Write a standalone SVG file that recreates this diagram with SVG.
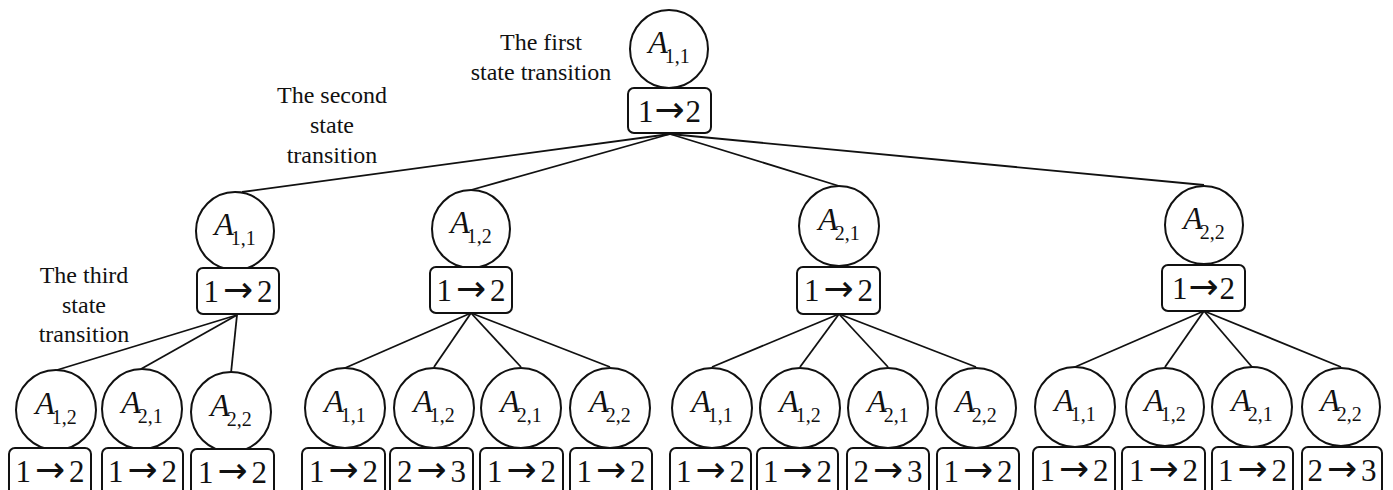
<svg xmlns="http://www.w3.org/2000/svg" width="1393" height="490" viewBox="0 0 1393 490">
<style>
text{font-family:"Liberation Serif","Times New Roman",serif;fill:#111}
.c{fill:#fff;stroke:#111;stroke-width:2}
.b{fill:#fff;stroke:#111;stroke-width:2}
.lbl{font-size:24px;text-anchor:middle}
.a{text-anchor:middle}
.ai{font-style:italic;font-size:32px}
.s{font-size:20px}
.t{font-size:31px;text-anchor:middle}
.r{font-family:"DejaVu Sans",sans-serif;font-size:36px}
#edges line{stroke:#111;stroke-width:1.8}
</style>
<g id="labels">
<text class="lbl" x="541" y="50">The first</text>
<text class="lbl" x="541" y="80">state transition</text>
<text class="lbl" x="332" y="103">The second</text>
<text class="lbl" x="332" y="133">state</text>
<text class="lbl" x="332" y="163">transition</text>
<text class="lbl" x="84" y="283">The third</text>
<text class="lbl" x="84" y="313">state</text>
<text class="lbl" x="84" y="342">transition</text>
</g>
<g id="edges">
<line x1="670" y1="134" x2="242" y2="192"/>
<line x1="670" y1="134" x2="471" y2="190"/>
<line x1="670" y1="134" x2="839" y2="186"/>
<line x1="670" y1="134" x2="1204" y2="185"/>
<line x1="237" y1="315" x2="57" y2="370"/>
<line x1="237" y1="315" x2="141" y2="369"/>
<line x1="237" y1="315" x2="231" y2="373"/>
<line x1="471" y1="313" x2="345" y2="368"/>
<line x1="471" y1="313" x2="434" y2="367"/>
<line x1="471" y1="313" x2="521" y2="367"/>
<line x1="471" y1="313" x2="610" y2="367"/>
<line x1="839" y1="314" x2="712" y2="367"/>
<line x1="839" y1="314" x2="800" y2="367"/>
<line x1="839" y1="314" x2="888" y2="367"/>
<line x1="839" y1="314" x2="976" y2="367"/>
<line x1="1204" y1="311" x2="1075" y2="367"/>
<line x1="1204" y1="311" x2="1165" y2="367"/>
<line x1="1204" y1="311" x2="1252" y2="367"/>
<line x1="1204" y1="311" x2="1341" y2="367"/>
</g>
<g id="n0">
<circle class="c" cx="669" cy="49" r="39"/>
<text class="a" x="669" y="53"><tspan class="ai">A</tspan><tspan class="s" dx="-3" dy="10">1,1</tspan></text>
<rect class="b" x="628" y="88" width="83" height="45" rx="6"/>
<text class="t" x="669.5" y="122">1<tspan class="r" dx="1">→</tspan><tspan dx="1">2</tspan></text>
</g>
<g id="n1">
<circle class="c" cx="235" cy="231" r="39"/>
<text class="a" x="235" y="235"><tspan class="ai">A</tspan><tspan class="s" dx="-3" dy="10">1,1</tspan></text>
<rect class="b" x="197" y="268" width="82" height="46" rx="6"/>
<text class="t" x="238" y="302">1<tspan class="r" dx="4">→</tspan><tspan dx="4">2</tspan></text>
</g>
<g id="n2">
<circle class="c" cx="471" cy="229" r="39"/>
<text class="a" x="471" y="233"><tspan class="ai">A</tspan><tspan class="s" dx="-3" dy="10">1,2</tspan></text>
<rect class="b" x="430" y="267" width="82" height="46" rx="6"/>
<text class="t" x="471" y="301">1<tspan class="r" dx="4">→</tspan><tspan dx="4">2</tspan></text>
</g>
<g id="n3">
<circle class="c" cx="839" cy="226" r="40"/>
<text class="a" x="839" y="230"><tspan class="ai">A</tspan><tspan class="s" dx="-3" dy="10">2,1</tspan></text>
<rect class="b" x="797" y="267" width="83" height="47" rx="6"/>
<text class="t" x="838.5" y="301">1<tspan class="r" dx="4">→</tspan><tspan dx="4">2</tspan></text>
</g>
<g id="n4">
<circle class="c" cx="1204" cy="225" r="39"/>
<text class="a" x="1204" y="229"><tspan class="ai">A</tspan><tspan class="s" dx="-3" dy="10">2,2</tspan></text>
<rect class="b" x="1162" y="265" width="83" height="46" rx="6"/>
<text class="t" x="1203.5" y="299">1<tspan class="r" dx="1">→</tspan><tspan dx="1">2</tspan></text>
</g>
<g id="n5"><circle class="c" cx="56" cy="410" r="40"/><text class="a" x="56" y="414"><tspan class="ai">A</tspan><tspan class="s" dx="-3" dy="10">1,2</tspan></text><rect class="b" x="9" y="448" width="82" height="48" rx="6"/><text class="t" x="50" y="482">1<tspan class="r" dx="4">→</tspan><tspan dx="4">2</tspan></text></g>
<g id="n6"><circle class="c" cx="142" cy="409" r="40"/><text class="a" x="142" y="413"><tspan class="ai">A</tspan><tspan class="s" dx="-3" dy="10">2,1</tspan></text><rect class="b" x="102" y="448" width="81" height="48" rx="6"/><text class="t" x="142.5" y="482">1<tspan class="r" dx="4">→</tspan><tspan dx="4">2</tspan></text></g>
<g id="n7"><circle class="c" cx="231" cy="412" r="40"/><text class="a" x="231" y="416"><tspan class="ai">A</tspan><tspan class="s" dx="-3" dy="10">2,2</tspan></text><rect class="b" x="191" y="449" width="83" height="48" rx="6"/><text class="t" x="232.5" y="483">1<tspan class="r" dx="4">→</tspan><tspan dx="4">2</tspan></text></g>
<g id="n8"><circle class="c" cx="345" cy="408" r="40"/><text class="a" x="345" y="412"><tspan class="ai">A</tspan><tspan class="s" dx="-3" dy="10">1,1</tspan></text><rect class="b" x="302" y="448" width="83" height="48" rx="6"/><text class="t" x="343.5" y="482">1<tspan class="r" dx="4">→</tspan><tspan dx="4">2</tspan></text></g>
<g id="n9"><circle class="c" cx="434" cy="408" r="40"/><text class="a" x="434" y="412"><tspan class="ai">A</tspan><tspan class="s" dx="-3" dy="10">1,2</tspan></text><rect class="b" x="390" y="448" width="83" height="48" rx="6"/><text class="t" x="431.5" y="482">2<tspan class="r" dx="4">→</tspan><tspan dx="4">3</tspan></text></g>
<g id="n10"><circle class="c" cx="521" cy="408" r="40"/><text class="a" x="521" y="412"><tspan class="ai">A</tspan><tspan class="s" dx="-3" dy="10">2,1</tspan></text><rect class="b" x="480" y="448" width="83" height="48" rx="6"/><text class="t" x="521.5" y="482">1<tspan class="r" dx="4">→</tspan><tspan dx="4">2</tspan></text></g>
<g id="n11"><circle class="c" cx="610" cy="408" r="40"/><text class="a" x="610" y="412"><tspan class="ai">A</tspan><tspan class="s" dx="-3" dy="10">2,2</tspan></text><rect class="b" x="570" y="448" width="82" height="48" rx="6"/><text class="t" x="611" y="482">1<tspan class="r" dx="4">→</tspan><tspan dx="4">2</tspan></text></g>
<g id="n12"><circle class="c" cx="712" cy="408" r="40"/><text class="a" x="712" y="412"><tspan class="ai">A</tspan><tspan class="s" dx="-3" dy="10">1,1</tspan></text><rect class="b" x="670" y="448" width="81" height="48" rx="6"/><text class="t" x="710.5" y="482">1<tspan class="r" dx="4">→</tspan><tspan dx="4">2</tspan></text></g>
<g id="n13"><circle class="c" cx="800" cy="408" r="40"/><text class="a" x="800" y="412"><tspan class="ai">A</tspan><tspan class="s" dx="-3" dy="10">1,2</tspan></text><rect class="b" x="757" y="448" width="81" height="48" rx="6"/><text class="t" x="797.5" y="482">1<tspan class="r" dx="4">→</tspan><tspan dx="4">2</tspan></text></g>
<g id="n14"><circle class="c" cx="888" cy="408" r="40"/><text class="a" x="888" y="412"><tspan class="ai">A</tspan><tspan class="s" dx="-3" dy="10">2,1</tspan></text><rect class="b" x="847" y="448" width="82" height="48" rx="6"/><text class="t" x="888" y="482">2<tspan class="r" dx="4">→</tspan><tspan dx="4">3</tspan></text></g>
<g id="n15"><circle class="c" cx="976" cy="408" r="40"/><text class="a" x="976" y="412"><tspan class="ai">A</tspan><tspan class="s" dx="-3" dy="10">2,2</tspan></text><rect class="b" x="937" y="448" width="82" height="48" rx="6"/><text class="t" x="978" y="482">1<tspan class="r" dx="4">→</tspan><tspan dx="4">2</tspan></text></g>
<g id="n16"><circle class="c" cx="1075" cy="407" r="40"/><text class="a" x="1075" y="411"><tspan class="ai">A</tspan><tspan class="s" dx="-3" dy="10">1,1</tspan></text><rect class="b" x="1033" y="447" width="82" height="48" rx="6"/><text class="t" x="1074" y="481">1<tspan class="r" dx="4">→</tspan><tspan dx="4">2</tspan></text></g>
<g id="n17"><circle class="c" cx="1165" cy="407" r="39"/><text class="a" x="1165" y="411"><tspan class="ai">A</tspan><tspan class="s" dx="-3" dy="10">1,2</tspan></text><rect class="b" x="1122" y="447" width="83" height="48" rx="6"/><text class="t" x="1163.5" y="481">1<tspan class="r" dx="4">→</tspan><tspan dx="4">2</tspan></text></g>
<g id="n18"><circle class="c" cx="1252" cy="407" r="40"/><text class="a" x="1252" y="411"><tspan class="ai">A</tspan><tspan class="s" dx="-3" dy="10">2,1</tspan></text><rect class="b" x="1212" y="447" width="81" height="48" rx="6"/><text class="t" x="1252.5" y="481">1<tspan class="r" dx="4">→</tspan><tspan dx="4">2</tspan></text></g>
<g id="n19"><circle class="c" cx="1341" cy="407" r="39"/><text class="a" x="1341" y="411"><tspan class="ai">A</tspan><tspan class="s" dx="-3" dy="10">2,2</tspan></text><rect class="b" x="1302" y="447" width="80" height="48" rx="6"/><text class="t" x="1342" y="481">2<tspan class="r" dx="4">→</tspan><tspan dx="4">3</tspan></text></g>
</svg>
